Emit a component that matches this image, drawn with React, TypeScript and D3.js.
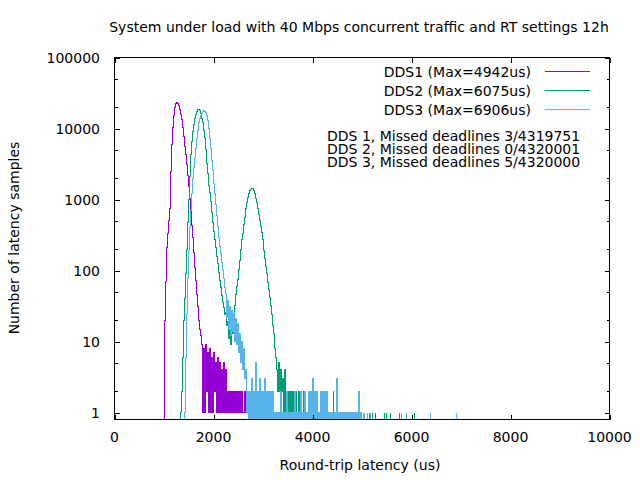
import * as d3 from 'd3'

// histogram bins, 20 us wide, counts
const binWidth = 20

const dds1Start = 1000
const dds1Counts = [
  3, 20, 70, 210, 330, 500, 750, 2500, 6000, 10500,
  15500, 20000, 22500, 23300, 22800, 21200, 18500, 16000, 13500, 10500,
  7600, 5500, 4300, 3100, 2200, 1550, 1050, 720, 430, 290,
  180, 110, 72, 46, 31, 20, 15, 12, 9,
  1, 8, 1, 9, 2, 7, 1, 8, 1, 6, 1, 7, 2, 5, 1, 6, 1, 5, 1, 4, 1, 5, 1,
  4, 1, 2, 1, 2, 1, 2, 1, 2, 1, 2, 1, 2, 1, 2, 1, 2, 1, 1, 2, 1, 1, 1,
]
const dds1Tail = [[3140, 2], [4700, 1], [4940, 1]]

const dds2Start = 1340
const dds2Counts = [
  1, 2, 6, 20, 40, 90, 200, 480, 1000, 2100,
  4300, 6500, 9000, 11500, 14000, 15800, 17200, 18300, 18700, 18000,
  16500, 14000, 12000, 9500, 7500, 5000, 3200, 2300, 1600, 1250,
  950, 650, 480, 360, 270, 210, 160, 125, 95, 72,
  58, 45, 36, 30, 24, 26, 17, 19, 11, 15,
  9, 16, 13, 24, 32, 46, 60, 75, 105, 140,
  200, 270, 334, 450, 560, 760, 900, 1080, 1230, 1320,
  1400, 1440, 1410, 1330, 1230, 1050, 900, 760, 620, 500,
  420, 340, 270, 220, 190, 150, 115, 90, 68, 55,
  42, 32, 24, 17, 13, 8, 6, 4, 2, 5,
  2, 4, 2, 3, 1, 4, 1, 2, 0, 2,
  1, 2, 0, 2, 1, 0, 2, 1, 1, 2,
  0, 1,
]
const dds2Tail = [
  [3780, 2], [3820, 2], [3960, 2], [4080, 2], [4120, 1], [4300, 2], [4430, 2],
  [4820, 1], [4900, 1], [5120, 1], [5160, 1], [5220, 1], [5280, 1], [5460, 1],
  [5500, 1], [5580, 1], [5760, 1], [6070, 1],
]

const dds3Start = 1420
const dds3Counts = [
  1, 6, 25, 80, 190, 400, 700, 1200, 2000, 2800,
  3800, 5200, 7200, 9500, 12000, 14000, 15300, 16500, 17200, 17700,
  17600, 17000, 15500, 13000, 10000, 7200, 5200, 3600, 2600, 1700,
  1200, 850, 600, 420, 290, 220, 175, 130, 100, 78,
  58, 48, 22, 38, 16, 31, 12, 27, 14, 25,
  10, 21, 9, 18, 7, 13, 5, 10, 4, 8,
  3, 4, 1, 2, 0, 2, 0, 3, 0, 2,
  0, 5, 0, 2, 0, 3, 0, 2, 0, 2,
  0, 3, 0, 2, 0, 2, 0, 2, 0, 2,
  0, 1, 0, 1, 0, 1, 0, 2, 0, 1,
  0, 1, 0, 2, 0, 1, 0, 1, 0, 1,
  0, 2, 0, 1, 0, 1, 0, 2, 0, 1,
  0, 2, 0, 1, 0, 2, 0, 2, 0, 3,
  0, 2, 0, 2, 0, 1, 0, 2, 0, 2,
  0, 2, 0, 2, 0, 1, 0, 1, 0, 1,
  0, 1, 0, 3, 0, 1, 0, 1, 0, 1,
  0, 1, 0, 1, 0, 1, 0, 1, 0, 1,
  0, 1, 0, 1, 0, 2, 0, 1,
]
const dds3Tail = [
  [5040, 1], [5060, 1], [5120, 1], [5180, 1], [5790, 1], [5900, 1], [6380, 1], [6900, 1],
]

const legendLabels = ['DDS1 (Max=4942us)', 'DDS2 (Max=6075us)', 'DDS3 (Max=6906us)']
const missedLabels = [
  'DDS 1, Missed deadlines 3/4319751',
  'DDS 2, Missed deadlines 0/4320001',
  'DDS 3, Missed deadlines 5/4320000',
]
const colors = ['#9400d3', '#009e73', '#56b4e9']

const xTicks = [0, 2000, 4000, 6000, 8000, 10000]
const yTicks = [1, 10, 100, 1000, 10000, 100000]
const yMinorTicks = [2, 5, 20, 50, 200, 500, 2000, 5000, 20000, 50000]

const title = 'System under load with 40 Mbps concurrent traffic and RT settings 12h'
const xTitle = 'Round-trip latency (us)'
const yTitle = 'Number of latency samples'

const W = 640
const H = 480
const left = 114.5
const right = 609.5
const top = 57.5
const bottom = 419.5
const yFloor = 0.8

const font = '"DejaVu Sans", sans-serif'

export default function App() {
  const x = d3.scaleLinear().domain([0, 10000]).range([left, right])
  const y = d3.scaleLog().domain([yFloor, 100000]).range([bottom, top])

  const step = d3.line<number[]>()
    .x(d => x(d[0]))
    .y(d => y(Math.max(d[1], yFloor)))
    .curve(d3.curveStepAfter)

  const spike = d3.line<number[]>()
    .x(d => x(d[0]))
    .y(d => y(Math.max(d[1], yFloor)))

  const series = [
    { start: dds1Start, counts: dds1Counts, tail: dds1Tail },
    { start: dds2Start, counts: dds2Counts, tail: dds2Tail },
    { start: dds3Start, counts: dds3Counts, tail: dds3Tail },
  ]

  const stepPoints = (start: number, counts: number[]) => {
    const pts: number[][] = [[start, 0]]
    counts.forEach((c, i) => pts.push([start + i * binWidth, c]))
    pts.push([start + counts.length * binWidth, 0])
    return pts
  }

  const majorLen = 5
  const minorLen = 3
  const snap = (v: number) => Math.round(v) + 0.5

  return (
    <svg
      width={W}
      height={H}
      style={{ position: 'absolute', left: 0, top: 0, background: '#fff' }}
      fontFamily={font}
      fontSize={14}
    >
      <text x={359} y={32} textAnchor="middle">{title}</text>

      <defs>
        <clipPath id="plot">
          <rect x={left} y={top} width={right - left} height={bottom - top + 1} />
        </clipPath>
      </defs>

      <g clipPath="url(#plot)" fill="none" strokeWidth={1} shapeRendering="crispEdges">
        {series.map((s, i) => (
          <g key={i} stroke={colors[i]}>
            <path d={step(stepPoints(s.start, s.counts)) || ''} />
            {s.tail.map((t, j) => (
              <path key={j} d={spike([[t[0], 0], [t[0], t[1]]]) || ''} />
            ))}
          </g>
        ))}
      </g>

      {/* frame and ticks */}
      <g stroke="#000" strokeWidth={1} fill="none" shapeRendering="crispEdges">
        <rect x={left} y={top} width={right - left} height={bottom - top} />
        {xTicks.map(t => (
          <g key={t}>
            <line x1={snap(x(t))} x2={snap(x(t))} y1={bottom} y2={bottom - majorLen} />
            <line x1={snap(x(t))} x2={snap(x(t))} y1={top} y2={top + majorLen} />
          </g>
        ))}
        {yTicks.map(t => (
          <g key={t}>
            <line x1={left} x2={left + majorLen} y1={snap(y(t))} y2={snap(y(t))} />
            <line x1={right} x2={right - majorLen} y1={snap(y(t))} y2={snap(y(t))} />
          </g>
        ))}
        {yMinorTicks.map(t => (
          <g key={t}>
            <line x1={left} x2={left + minorLen} y1={snap(y(t))} y2={snap(y(t))} />
            <line x1={right} x2={right - minorLen} y1={snap(y(t))} y2={snap(y(t))} />
          </g>
        ))}
      </g>

      {xTicks.map(t => (
        <text key={t} x={x(t)} y={442} textAnchor="middle">{t}</text>
      ))}
      {yTicks.map(t => (
        <text key={t} x={100} y={y(t) + 5} textAnchor="end">{t}</text>
      ))}

      <text x={360} y={470} textAnchor="middle">{xTitle}</text>
      <text transform={`translate(19,238) rotate(-90)`} textAnchor="middle">{yTitle}</text>

      {/* legend */}
      {legendLabels.map((l, i) => (
        <g key={l}>
          <text x={531} y={76.5 + i * 19} textAnchor="end">{l}</text>
          <line x1={545} x2={590} y1={71.5 + i * 19} y2={71.5 + i * 19} stroke={colors[i]} strokeWidth={1} />
        </g>
      ))}
      {missedLabels.map((l, i) => (
        <text key={l} x={327} y={140.7 + i * 13.3}>{l}</text>
      ))}
    </svg>
  )
}
